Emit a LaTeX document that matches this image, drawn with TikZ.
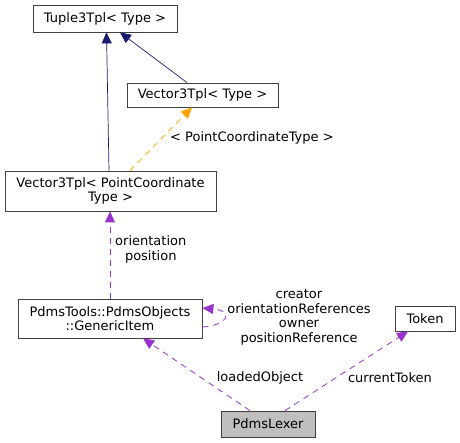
\documentclass[tikz,border=0pt]{standalone}
\usepackage{fontspec}
\setmainfont{DejaVu Sans}
\usetikzlibrary{arrows.meta}
\definecolor{inh}{HTML}{191970}
\definecolor{tpl}{HTML}{FFA500}
\definecolor{use}{HTML}{9A32CD}
\definecolor{cur}{HTML}{BFBFBF}
\begin{document}
\begin{tikzpicture}[x=1pt,y=-1pt,
  box/.style={draw=black!75,line width=0.8pt,fill=white,inner sep=0pt,font=\fontsize{13}{14.5}\selectfont,align=center},
  lbl/.style={font=\fontsize{13}{14.5}\selectfont,align=center,inner sep=0pt},
  tip/.style={-{Triangle[length=11pt,width=10pt]}},
  inhline/.style={tip,draw=inh,line width=0.7pt},
  tplline/.style={tip,draw=tpl,line width=0.8pt,dash pattern=on 6pt off 5pt},
  useline/.style={tip,draw=use,line width=0.8pt,dash pattern=on 6pt off 5pt}]
\useasboundingbox (0,0) rectangle (460,443);
\node[box,minimum width=144pt,minimum height=27pt] (tuple) at (105,18.5) {Tuple3Tpl< Type >};
\node[box,minimum width=151pt,minimum height=24pt] (vtype) at (202.5,95) {Vector3Tpl< Type >};
\node[box,minimum width=211pt,minimum height=40pt] (vpc) at (110.5,191) {Vector3Tpl< PointCoordinate\\Type >};
\node[box,minimum width=184pt,minimum height=39pt] (gen) at (110,318.5) {PdmsTools::PdmsObjects\\::GenericItem};
\node[box,minimum width=60pt,minimum height=25pt] (tok) at (425,318.5) {Token};
\node[box,fill=cur,minimum width=94pt,minimum height=26pt] (lex) at (268,424) {PdmsLexer};
% inheritance
\draw[inhline] (vpc.north -| 109,0) -- (tuple.south -| 106.5,0);
\draw[inhline] (vtype.north -| 187,0) -- (tuple.south -| 120,0);
% template
\draw[tplline] (vpc.north -| 130,0) -- (vtype.south -| 192,0);
\node[lbl,anchor=west] (tlbl) at (170,138) {< PointCoordinateType >};
% usage
\draw[useline] (gen.north -| 110,0) -- (vpc.south -| 110,0);
\node[lbl,anchor=west] (olbl) at (115,249.5) {orientation\\position};
\draw[useline] (gen.east |- 0,327) .. controls (226,326) and (236,311) .. (gen.east |- 0,308);
\node[lbl] (slbl) at (299,317.5) {creator\\orientationReferences\\owner\\positionReference};
\draw[useline] (lex.north -| 250,0) -- (gen.south -| 143,0);
\node[lbl] (llbl) at (260,378) {loadedObject};
\draw[useline] (lex.north -| 285,0) -- (tok.south -| 408,0);
\node[lbl] (clbl) at (390,378) {currentToken};
\end{tikzpicture}
\end{document}
